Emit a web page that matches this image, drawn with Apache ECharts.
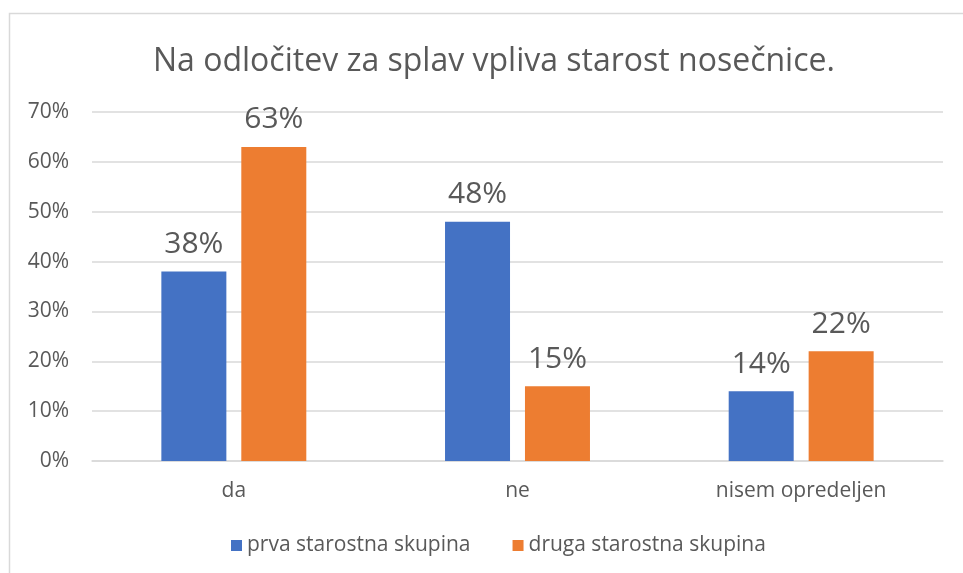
<!DOCTYPE html>
<html><head><meta charset="utf-8">
<script src="https://cdn.jsdelivr.net/npm/echarts@6/dist/echarts.min.js"></script>
<style>html,body{margin:0;padding:0;background:#fff}#c{width:963px;height:573px}</style>
</head><body><div id="c"></div>
<script>
const title = 'Na odločitev za splav vpliva starost nosečnice.';
const categories = ['da', 'ne', 'nisem opredeljen'];
const seriesNames = ['prva starostna skupina', 'druga starostna skupina'];
const prva = [38, 48, 14];
const druga = [63, 15, 22];
const yTicks = [0, 10, 20, 30, 40, 50, 60, 70];

const font = '"Open Sans", sans-serif';
const txt = '#595959';
const chart = echarts.init(document.getElementById('c'), null, {renderer: 'canvas'});
chart.setOption({
  animation: false,
  backgroundColor: '#fff',
  graphic: [{type: 'rect', shape: {x: 9.5, y: 13.5, width: 1000, height: 1000},
    style: {fill: 'none', stroke: '#D9D9D9', lineWidth: 1.5}, silent: true}],
  title: {text: title, left: 148, top: 41,
    textStyle: {fontFamily: font, fontSize: 32, fontWeight: 'normal', color: txt}},
  legend: {data: seriesNames, bottom: 12, left: 226, itemWidth: 11, itemHeight: 11, itemGap: 42,
    icon: 'rect', textStyle: {fontFamily: font, fontSize: 21, color: txt}},
  grid: {left: 92, right: 20, top: 112, bottom: 112, containLabel: false},
  xAxis: {type: 'category', data: categories,
    axisLine: {lineStyle: {color: '#D9D9D9', width: 1.5}}, axisTick: {show: false},
    axisLabel: {fontFamily: font, fontSize: 21, color: txt, margin: 20}},
  yAxis: {type: 'value', min: yTicks[0], max: yTicks[yTicks.length - 1], interval: 10,
    axisLine: {show: false}, axisTick: {show: false},
    splitLine: {lineStyle: {color: '#D9D9D9', width: 1.5}},
    axisLabel: {fontFamily: font, fontSize: 21, color: txt, margin: 23, formatter: v => v + '%'}},
  series: [
    {name: seriesNames[0], type: 'bar', data: prva, barWidth: 65, barGap: '23%',
     itemStyle: {color: '#4472C4'},
     label: {show: true, position: 'top', distance: 12, formatter: p => p.value + '%',
       fontFamily: font, fontSize: 30, color: txt}},
    {name: seriesNames[1], type: 'bar', data: druga, barWidth: 65, barGap: '23%',
     itemStyle: {color: '#ED7D31'},
     label: {show: true, position: 'top', distance: 12, formatter: p => p.value + '%',
       fontFamily: font, fontSize: 30, color: txt}}
  ]
});
</script></body></html>
